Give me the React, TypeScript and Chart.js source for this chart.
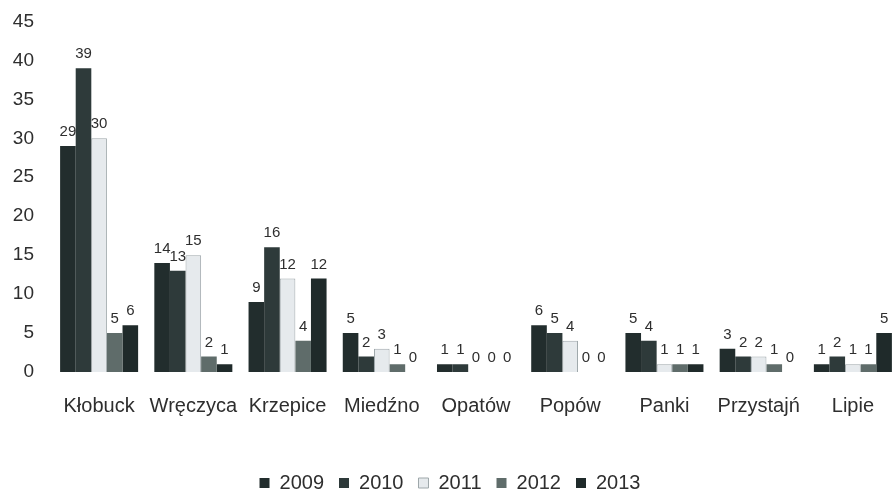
import React, { useEffect, useRef } from "react";
import { Chart, registerables } from "chart.js";

Chart.register(...registerables);

const categories = ["Kłobuck", "Wręczyca", "Krzepice", "Miedźno", "Opatów", "Popów", "Panki", "Przystajń", "Lipie"];
const years = ["2009", "2010", "2011", "2012", "2013"];
const values2009 = [29, 14, 9, 5, 1, 6, 5, 3, 1];
const values2010 = [39, 13, 16, 2, 1, 5, 4, 2, 2];
const values2011 = [30, 15, 12, 3, 0, 4, 1, 2, 1];
const values2012 = [5, 2, 4, 1, 0, 0, 1, 1, 1];
const values2013 = [6, 1, 12, 0, 0, 0, 1, 0, 5];
const yTicks = [0, 5, 10, 15, 20, 25, 30, 35, 40, 45];

const seriesValues = [values2009, values2010, values2011, values2012, values2013];
const fills = ["#222d2d", "#2e3a3a", "#e6eaed", "#5f6c6a", "#1f2a2a"];
const borders = ["#222d2d", "#2e3a3a", "#9ea7aa", "#5f6c6a", "#1f2a2a"];

const FONT = "'Liberation Sans', Arial, sans-serif";
const TEXT = "#2e2e2e";

const dataLabels = {
  id: "dataLabels",
  afterDatasetsDraw(chart: any) {
    const ctx = chart.ctx;
    ctx.save();
    ctx.font = `15px ${FONT}`;
    ctx.fillStyle = TEXT;
    ctx.textAlign = "center";
    ctx.textBaseline = "middle";
    chart.data.datasets.forEach((ds: any, i: number) => {
      const meta = chart.getDatasetMeta(i);
      meta.data.forEach((el: any, j: number) => {
        ctx.fillText(String(ds.data[j]), el.x, el.y - 14);
      });
    });
    ctx.restore();
  },
};

export default function App() {
  const ref = useRef<HTMLCanvasElement>(null);
  useEffect(() => {
    if (!ref.current) return;
    const chart = new Chart(ref.current, {
      type: "bar",
      data: {
        labels: categories,
        datasets: years.map((y, i) => ({
          label: y,
          data: seriesValues[i],
          backgroundColor: fills[i],
          borderColor: borders[i],
          borderWidth: i === 2 ? 1 : 0,
          categoryPercentage: 0.828,
          barPercentage: 1,
        })),
      },
      options: {
        responsive: false,
        animation: false,
        layout: { padding: { top: 15, right: 12, left: 0, bottom: 0 } },
        plugins: {
          tooltip: { enabled: false },
          legend: {
            position: "bottom",
            labels: {
              boxWidth: 10,
              boxHeight: 10,
              padding: 15,
              color: TEXT,
              font: { family: FONT, size: 20 },
            },
          },
        },
        scales: {
          x: {
            grid: { display: false },
            border: { display: false },
            ticks: { color: TEXT, font: { family: FONT, size: 20 }, padding: 14, maxRotation: 0, autoSkip: false },
            afterFit: (s: any) => {
              s.height = 86;
            },
          },
          y: {
            min: 0,
            max: 45,
            grid: { display: false },
            border: { display: false },
            afterBuildTicks: (s: any) => {
              s.ticks = yTicks.map((v) => ({ value: v }));
            },
            ticks: { color: TEXT, font: { family: FONT, size: 19 }, padding: 10 },
            afterFit: (s: any) => {
              s.width = 52;
            },
          },
        },
      },
      plugins: [dataLabels],
    });
    return () => chart.destroy();
  }, []);
  return (
    <div style={{ position: "absolute", left: 0, top: 0, width: 892, height: 494, overflow: "hidden", background: "#fff" }}>
      <canvas ref={ref} width={912} height={503} style={{ display: "block", width: 912, height: 503 }} />
    </div>
  );
}
